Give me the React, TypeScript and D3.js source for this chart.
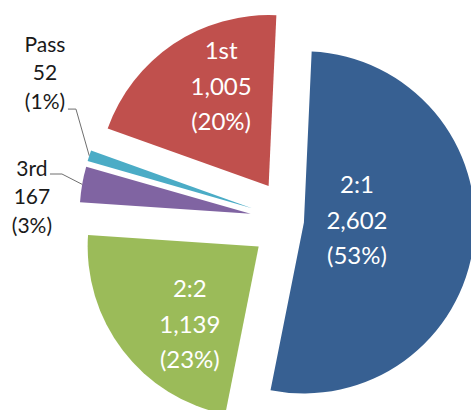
import React from "react";
import * as d3 from "d3";

const categories = ["2:1", "2:2", "3rd", "Pass", "1st"];
const counts = [2602, 1139, 167, 52, 1005];
const percentLabels = ["(53%)", "(23%)", "(3%)", "(1%)", "(20%)"];
const colors = ["#376092", "#9BBB59", "#8064A2", "#4BACC6", "#C0504D"];

// layout
const W = 471;
const H = 410;
const CX = 292;
const CY = 221;
const R = 171;
const START_DEG = 2.6;
const explode = [12, 42, 42, 42, 42];
// inside labels: [radius from apex, angle delta (deg) from mid-angle] ; null = outside
const insideLabel: ([number, number] | null)[] = [[53.4, -0.4], [110.4, -14], null, null, [102.8, 6.3]];
// outside labels: [radius from pie centre, angle deg], leader elbow offsets
const outsideLabel: ({ r: number; a: number; end: [number, number]; elbow: [number, number] } | null)[] = [
  null,
  null,
  { r: 260.6, a: 273.74, end: [18, -30], elbow: [30, -30] },
  { r: 284.4, a: 299.7, end: [23, 29], elbow: [31, 29] },
  null,
];

const rad = (d: number) => (d * Math.PI) / 180;
const polar = (r: number, a: number): [number, number] => [r * Math.sin(a), -r * Math.cos(a)];

export default function App() {
  const pie = d3
    .pie<number>()
    .sort(null)
    .value((d) => d)
    .startAngle(rad(START_DEG))
    .endAngle(rad(START_DEG) + 2 * Math.PI);
  const arcs = pie(counts);
  const arc = d3.arc<d3.PieArcDatum<number>>().innerRadius(0).outerRadius(R);
  const fmt = d3.format(",");
  const font = "Lato, 'Open Sans', sans-serif";

  return (
    <svg
      width={W}
      height={H}
      style={{ position: "absolute", left: 0, top: 0, background: "#fff" }}
    >
      {arcs.map((a, i) => {
        const mid = (a.startAngle + a.endAngle) / 2;
        const [ox, oy] = polar(explode[i], mid);
        const ax = CX + ox;
        const ay = CY + oy;
        const lines = [categories[i], fmt(counts[i]), percentLabels[i]];
        const il = insideLabel[i];
        const ol = outsideLabel[i];
        let labelEls: React.ReactNode = null;
        if (il) {
          const [lx, ly] = polar(il[0], mid + rad(il[1]));
          const bx = ax + lx;
          const by = ay + ly;
          const step = 35.5;
          labelEls = lines.map((t, k) => (
            <text
              key={k}
              x={bx}
              y={by + (k - 1) * step}
              textAnchor="middle"
              fill="#fff"
              fontSize={24}
              fontFamily={font}
            >
              {t}
            </text>
          ));
        } else if (ol) {
          const [lx, ly] = polar(ol.r, rad(ol.a));
          const bx = CX + lx;
          const by = CY + ly;
          const [px, py] = polar(R, mid);
          const step = 28.5;
          labelEls = (
            <g>
              <polyline
                points={`${bx + ol.end[0]},${by + ol.end[1]} ${bx + ol.elbow[0]},${by + ol.elbow[1]} ${ax + px},${ay + py}`}
                fill="none"
                stroke="#6f6f6f"
                strokeWidth={1}
              />
              {lines.map((t, k) => (
                <text
                  key={k}
                  x={bx}
                  y={by + (k - 1) * step}
                  textAnchor="middle"
                  fill="#1a1a1a"
                  fontSize={21}
                  fontFamily={font}
                >
                  {t}
                </text>
              ))}
            </g>
          );
        }
        return (
          <g key={i}>
            <path d={arc(a) || ""} transform={`translate(${ax},${ay})`} fill={colors[i]} />
            {labelEls}
          </g>
        );
      })}
    </svg>
  );
}
